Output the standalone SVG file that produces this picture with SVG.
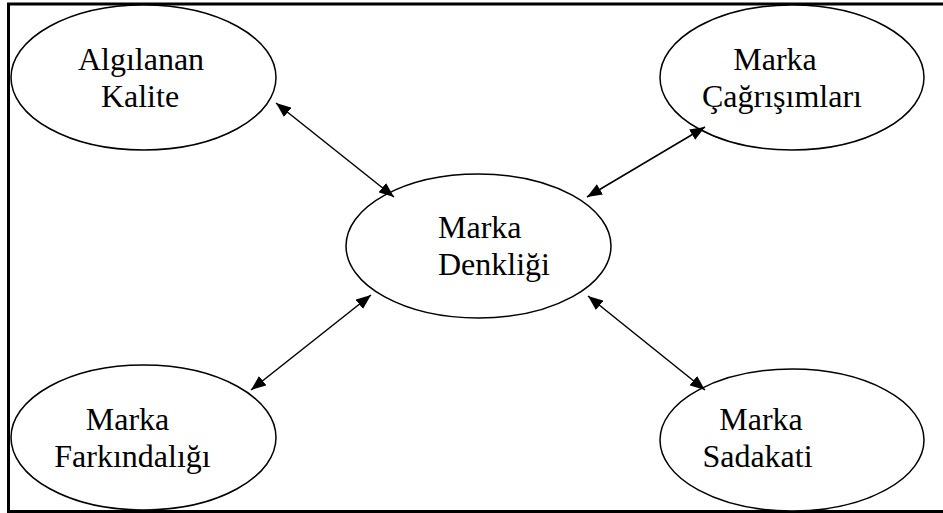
<svg xmlns="http://www.w3.org/2000/svg" width="943" height="513" viewBox="0 0 943 513">
<style>
.node ellipse{fill:#fff;stroke:#000;stroke-width:1.5}
.node text{font-family:"Liberation Serif","Times New Roman",serif;font-size:32px;fill:#000}
.conn line{stroke:#000;stroke-width:1.5;marker-start:url(#ah);marker-end:url(#ah)}
</style>
<defs>
<marker id="ah" markerUnits="userSpaceOnUse" markerWidth="16" markerHeight="12" refX="15" refY="6" orient="auto-start-reverse">
<path d="M0,0 L15,6 L0,12 z" fill="#000"/>
</marker>
</defs>
<rect width="943" height="513" fill="#fff"/>
<path d="M946,4 H8.5 V511.5 H946" fill="none" stroke="#000" stroke-width="3"/>
<g id="algilanan-kalite" class="node">
<ellipse cx="143.5" cy="77.5" rx="132.5" ry="72.5"/>
<text x="141" y="70" text-anchor="middle">Algılanan</text>
<text x="140" y="107" text-anchor="middle">Kalite</text>
</g>
<g id="marka-cagrisimlari" class="node">
<ellipse cx="792" cy="77.5" rx="132" ry="72.5"/>
<text x="775" y="70" text-anchor="middle">Marka</text>
<text x="782" y="107" text-anchor="middle">Çağrışımları</text>
</g>
<g id="marka-denkligi" class="node">
<ellipse cx="478.5" cy="246" rx="132.5" ry="72"/>
<text x="438" y="238">Marka</text>
<text x="438" y="275">Denkliği</text>
</g>
<g id="marka-farkindaligi" class="node">
<ellipse cx="143.5" cy="437.5" rx="132.5" ry="72.5"/>
<text x="127.5" y="430" text-anchor="middle">Marka</text>
<text x="132.5" y="467" text-anchor="middle">Farkındalığı</text>
</g>
<g id="marka-sadakati" class="node">
<ellipse cx="792" cy="440" rx="132" ry="71"/>
<text x="761" y="430" text-anchor="middle">Marka</text>
<text x="757.5" y="467" text-anchor="middle">Sadakati</text>
</g>
<g id="connectors" class="conn">
<line x1="276" y1="103" x2="394" y2="197"/>
<line x1="705" y1="127" x2="587" y2="197"/>
<line x1="251" y1="390" x2="371" y2="295"/>
<line x1="705" y1="390" x2="588" y2="296"/>
</g>
</svg>
